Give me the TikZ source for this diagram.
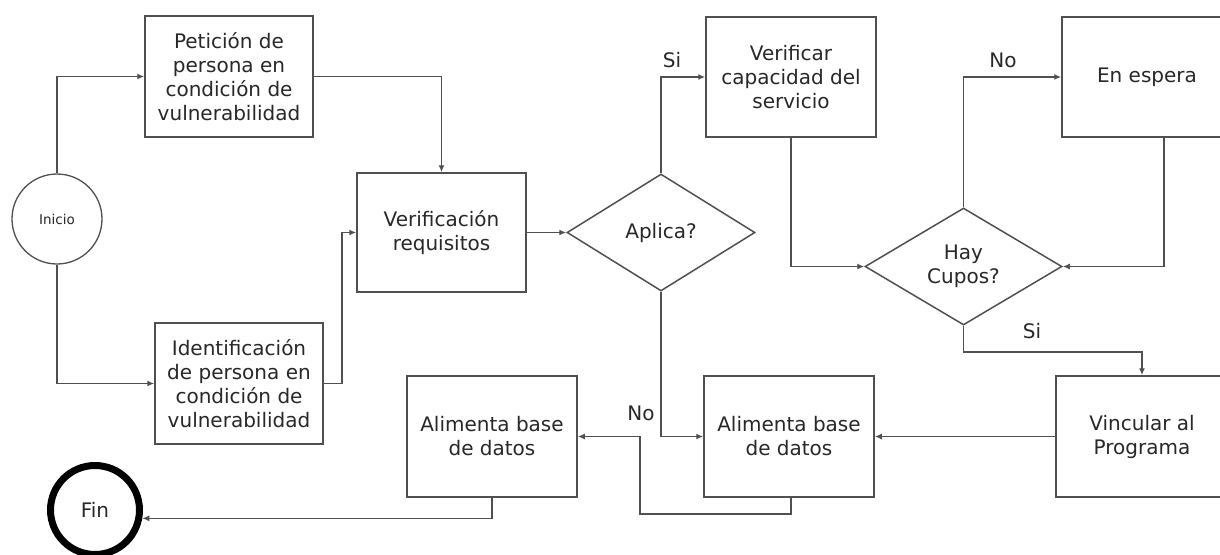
\documentclass[tikz,border=0pt]{standalone}
\usepackage{fontspec}
\setmainfont{DejaVu Sans}
\usetikzlibrary{shapes.geometric,arrows.meta,calc}
\definecolor{lncol}{RGB}{80,80,80}
\definecolor{txcol}{RGB}{40,40,40}
\begin{document}
\begin{tikzpicture}[x=1pt,y=-1pt,
  every node/.style={text=txcol,font=\fontsize{20}{24}\selectfont},
  box/.style={draw=lncol,line width=1.5pt,rectangle,align=center,inner sep=2pt,minimum width=#1,minimum height=121pt},
  box/.default=169pt,
  dec/.style={draw=lncol,line width=1.5pt,diamond,align=center,inner sep=0pt,minimum width=#1,minimum height=117pt},
  conn/.style={draw=lncol,line width=1.6pt},
  arr/.style={conn,-{Latex[length=7pt,width=6pt]}},
  lbl/.style={font=\fontsize{20}{24}\selectfont}
]
\clip (0,0) rectangle (1220,554);
\fill[white] (0,0) rectangle (1220,554);

\node[draw=lncol,line width=1.3pt,circle,minimum size=90pt,inner sep=0pt,font=\fontsize{13.5}{16}\selectfont] (ini) at (57,219) {Inicio};
\node[box=168pt] (pet) at (229,76.5) {Petición de\\persona en\\condición de\\vulnerabilidad};
\node[box=168pt] (ide) at (239,383.5) {Identificación\\de persona en\\condición de\\vulnerabilidad};
\node[box=169pt,minimum height=119pt] (ver) at (441.5,232.5) {Verificación\\requisitos};
\node[dec=188pt] (apl) at (661,232.5) {Aplica?};
\node[box=170pt,minimum height=120pt] (cap) at (791,77) {Verificar\\capacidad del\\servicio};
\node[dec=197pt] (hay) at (963.5,266.5) {Hay\\Cupos?};
\node[box=170pt,minimum height=120pt] (esp) at (1147,77) {En espera};
\node[box=172pt] (vin) at (1142,436.5) {Vincular al\\Programa};
\node[box=170pt] (al2) at (789,436.5) {Alimenta base\\de datos};
\node[box=170pt] (al1) at (492,436.5) {Alimenta base\\de datos};
\node[draw=black,line width=7pt,circle,minimum size=89pt,inner sep=0pt] (fin) at (95,510) {Fin};

\draw[arr] (ini.north) |- (pet.west);
\draw[arr] (ini.south) |- (ide.west);
\draw[arr] (pet.east) -| (ver.north);
\draw[arr] (ide.east) -- ++(18,0) |- (ver.west);
\draw[arr] (ver.east) -- (apl.west);
\draw[arr] (apl.north) |- (cap.west);
\node[lbl] (si1) at (672,60) {Si};
\draw[arr] (cap.south) |- (hay.west);
\draw[arr] (hay.north) |- (esp.west);
\node[lbl] (no1) at (1003,60) {No};
\draw[arr] ([xshift=17pt]esp.south) |- (hay.east);
\draw[arr] (hay.south) -- ++(0,26) -| (vin.north);
\node[lbl] (si2) at (1032,331) {Si};
\draw[arr] (vin.west) -- (al2.east);
\draw[arr] (apl.south) |- (al2.west);
\node[lbl] (no2) at (641,413) {No};
\coordinate (j) at (640,436.5);
\draw[arr] ([xshift=2pt]al2.south) -- ++(0,16) -| (j) -- (al1.east);
\draw[arr] (al1.south) |- (fin.-10);
\end{tikzpicture}
\end{document}
